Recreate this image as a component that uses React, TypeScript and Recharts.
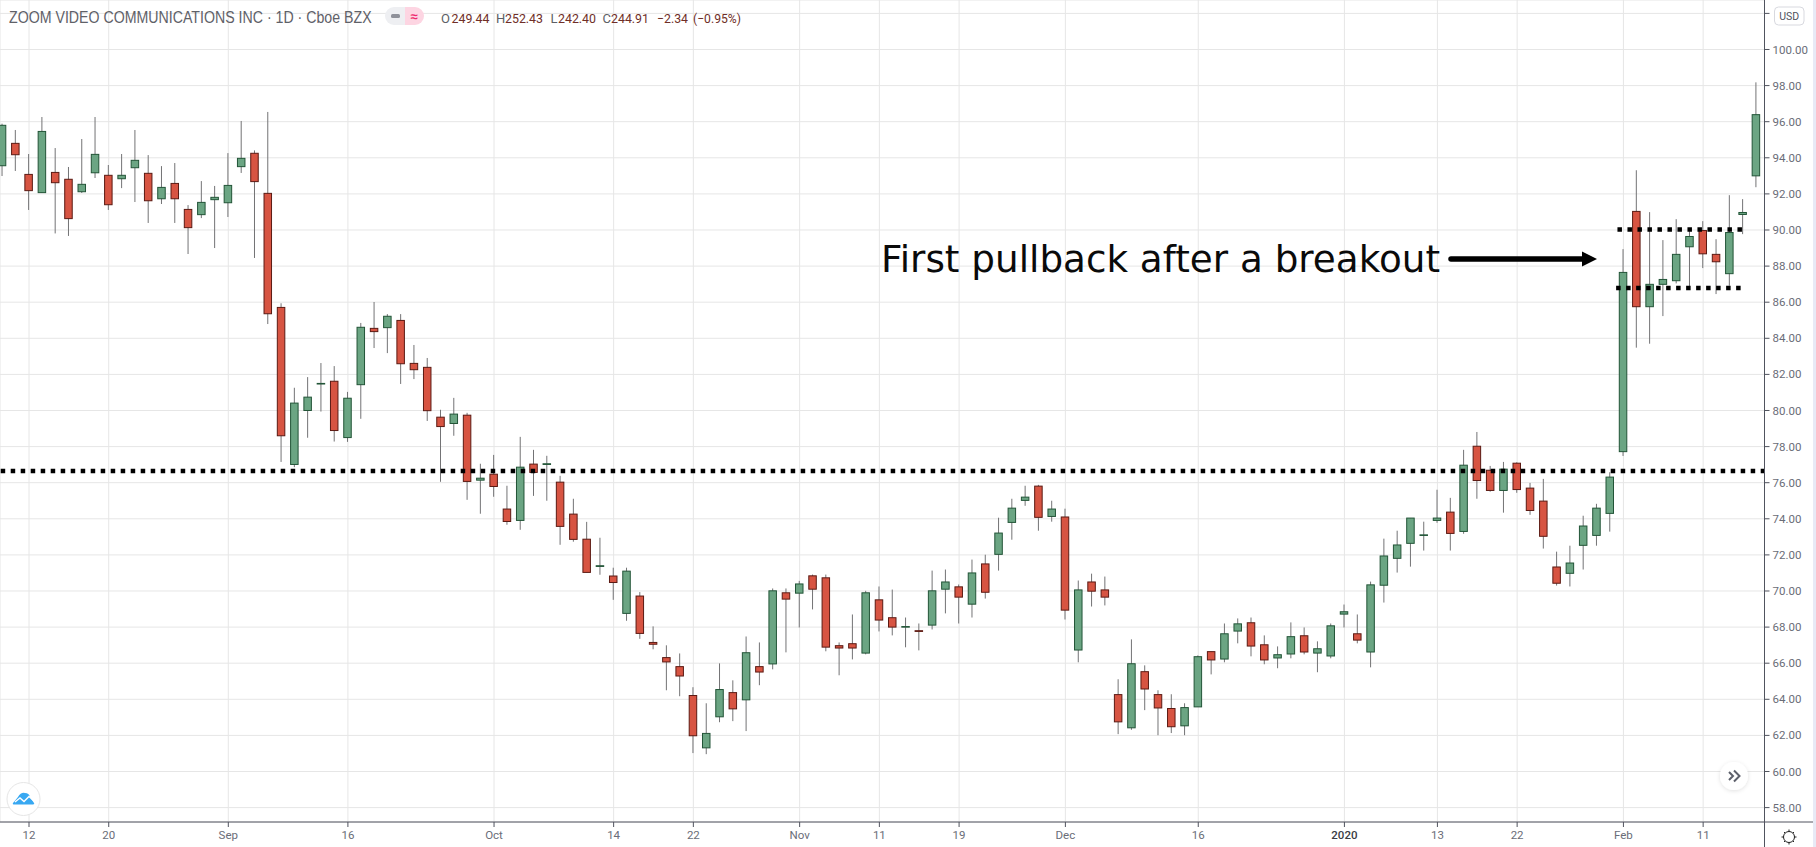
import React from "react";
import { ComposedChart, Bar, XAxis, YAxis, CartesianGrid, ReferenceLine } from "recharts";

const opens = [93.56,94.80,93.08,92.07,93.19,92.81,92.12,93.17,93.03,92.84,93.45,93.14,91.73,92.58,91.14,90.85,91.68,91.51,93.51,94.25,92.03,85.71,77.01,80.00,81.47,81.62,78.50,81.43,84.55,84.59,84.99,82.61,82.39,79.63,79.28,79.74,76.14,76.47,74.54,73.91,77.03,77.01,76.03,74.26,72.87,71.36,70.83,68.76,69.72,67.15,66.31,65.81,64.21,61.31,63.03,64.37,63.97,65.81,65.96,69.90,69.88,70.84,70.73,66.97,67.08,66.56,69.51,68.52,68.00,67.80,68.11,70.10,70.23,69.27,71.50,72.03,73.80,75.02,75.81,74.13,74.10,66.73,70.50,70.06,64.26,62.42,65.53,64.26,63.49,62.53,63.58,66.64,66.23,67.78,68.24,67.02,66.29,66.51,67.52,66.56,66.40,68.72,67.63,66.62,70.32,71.81,72.64,73.08,73.91,74.37,73.30,78.02,76.69,75.57,77.08,75.70,74.98,71.33,70.98,72.53,73.08,74.30,77.72,91.03,85.75,86.99,87.19,89.07,89.97,88.65,87.58,90.86,93.00];
const highs = [95.89,95.54,94.21,96.26,94.54,93.49,95.04,96.26,93.60,94.21,95.54,94.15,93.54,93.71,91.38,92.71,92.44,94.26,96.04,94.41,96.54,85.94,81.26,81.85,82.63,82.46,81.03,84.85,86.01,85.34,85.34,83.63,82.91,80.04,80.70,79.87,77.05,77.54,75.83,78.54,77.82,77.49,76.38,75.11,73.83,72.95,71.29,71.29,69.94,68.04,66.99,66.54,64.67,63.78,65.99,65.05,67.48,67.15,70.14,70.14,70.56,70.91,70.91,67.15,68.70,70.01,70.25,70.08,68.53,68.20,71.13,71.19,70.36,71.74,72.01,74.06,75.11,75.83,75.88,75.00,74.56,70.58,70.96,70.80,65.11,67.32,65.88,64.50,64.28,63.78,66.43,66.64,68.20,68.48,68.53,67.54,66.93,68.26,67.98,67.21,68.20,69.25,68.70,70.52,72.90,73.34,74.04,73.84,75.61,75.16,77.82,78.81,76.93,77.15,77.13,75.99,76.21,72.18,72.51,74.17,74.83,76.58,88.94,93.31,90.99,89.44,90.60,89.99,90.49,89.49,91.93,91.71,98.18];
const lows = [92.99,93.27,91.11,92.07,89.81,89.67,92.05,92.88,91.11,92.32,91.55,90.39,91.44,90.39,88.67,90.66,89.00,90.72,93.16,88.45,84.79,77.15,76.86,78.49,79.94,78.28,78.26,79.54,83.46,83.18,81.47,81.74,79.42,76.05,78.60,75.05,74.28,75.22,73.67,73.39,75.27,75.00,72.56,72.73,71.03,70.90,69.51,68.35,67.35,66.77,64.50,64.17,61.02,60.96,62.73,62.79,62.24,64.78,65.66,66.60,67.98,68.98,66.66,65.33,66.21,66.49,67.76,67.54,66.88,66.71,67.87,68.76,68.20,68.53,69.58,71.13,72.84,74.72,73.34,73.84,68.42,66.05,69.14,69.20,62.07,62.31,63.40,62.01,62.13,62.01,63.58,65.38,66.05,67.10,66.38,65.94,65.72,66.27,66.49,65.50,66.27,67.98,67.10,65.77,69.36,71.02,71.35,72.24,73.78,72.24,73.17,75.11,75.50,74.34,75.44,74.22,72.35,70.30,70.25,71.19,72.51,73.29,77.48,83.48,83.70,85.23,87.04,86.86,87.89,86.45,86.91,89.77,92.37];
const closes = [95.80,94.17,92.18,95.46,92.62,90.63,92.53,94.19,91.40,93.03,93.86,91.62,92.36,91.73,90.13,91.53,91.81,92.47,93.97,92.68,85.36,78.60,80.41,80.74,81.50,78.89,80.68,84.61,84.37,85.22,82.59,82.26,79.99,79.11,79.80,76.07,76.25,75.79,73.85,76.86,76.57,77.05,73.58,72.86,71.03,71.40,70.47,71.10,67.65,67.05,66.07,65.29,61.98,62.11,64.54,63.47,66.58,65.51,70.01,69.55,70.39,70.10,66.89,66.84,66.84,69.90,68.39,68.00,68.03,67.76,70.01,70.50,69.66,71.00,69.93,73.21,74.59,75.20,74.08,74.54,68.94,70.06,69.99,69.66,62.75,65.97,64.57,63.52,62.48,63.54,66.36,66.18,67.63,68.18,66.95,66.18,66.47,67.47,66.62,66.80,68.07,68.85,67.28,70.34,71.94,72.55,74.04,73.11,74.04,73.19,76.97,76.12,75.57,76.75,75.62,74.46,73.03,70.43,71.55,73.60,74.59,76.31,87.65,85.75,86.99,87.26,88.65,89.64,88.68,88.24,89.86,90.97,96.39];

const dateTickIndex = [2,8,17,26,37,46,52,60,66,72,80,90,101,108,114,122,128];
const dateTickLabel = ["12","20","Sep","16","Oct","14","22","Nov","11","19","Dec","16","2020","13","22","Feb","11"];
const priceTicks = [58,60,62,64,66,68,70,72,74,76,78,80,82,84,86,88,90,92,94,96,98,100,102];

const breakoutLevel = 76.65;
const rangeTop = 90.03;
const rangeBottom = 86.79;

const rows = opens.map((o, i) => ({
  i,
  o,
  h: highs[i],
  l: lows[i],
  c: closes[i],
  range: [lows[i], highs[i]],
}));

const UI_FONT = "Roboto, 'Liberation Sans', sans-serif";
const AXIS_COLOR = "#50535e";

function Candle(props: any) {
  const { x, y, width, height, payload } = props;
  const { o, h, l, c } = payload;
  const k = height / (h - l);
  const cx = x + width / 2;
  const up = c >= o;
  const yTop = y + (h - Math.max(o, c)) * k;
  const yBot = y + (h - Math.min(o, c)) * k;
  return (
    <g>
      <line x1={cx} x2={cx} y1={y} y2={y + height} stroke="#737375" strokeWidth={1} />
      <rect
        x={x + 0.5}
        y={yTop}
        width={width - 1}
        height={Math.max(yBot - yTop, 0.6)}
        fill={up ? "#6ba583" : "#d75442"}
        stroke={up ? "#225437" : "#5b1a13"}
        strokeWidth={1}
      />
    </g>
  );
}

function DateTick(props: any) {
  const { x, y, payload } = props;
  const label = dateTickLabel[dateTickIndex.indexOf(payload.value)];
  return (
    <text
      x={x}
      y={y + 10}
      textAnchor="middle"
      fontFamily={UI_FONT}
      fontSize={11.5}
      fontWeight={label === "2020" ? 500 : 400}
      fill={label === "2020" ? "#3a3c44" : "#6a6d78"}
    >
      {label}
    </text>
  );
}

function Overlay() {
  return (
    <svg width={1816} height={847} style={{ position: "absolute", left: 0, top: 0, pointerEvents: "none" }}>
      <defs>
        <filter id="soft" x="-50%" y="-50%" width="200%" height="200%">
          <feDropShadow dx="0" dy="1" stdDeviation="2" floodColor="#000" floodOpacity="0.12" />
        </filter>
      </defs>
      <line x1={1764.5} x2={1764.5} y1={822} y2={847} stroke={AXIS_COLOR} />
      <line x1={1764} x2={1813} y1={822} y2={822} stroke={AXIS_COLOR} />
      <rect x={1813} y={0} width={3} height={847} fill="#e8eaf6" />

      <text transform="translate(9,23) scale(0.834,1)" fontFamily="'Liberation Sans', sans-serif" fontSize={17} fill="#5f6168">
        ZOOM VIDEO COMMUNICATIONS INC · 1D · Cboe BZX
      </text>

      <path d="M405 7 H394 A9 9 0 0 0 394 25 H405 Z" fill="#eeeff2" />
      <path d="M405 7 H415 A9 9 0 0 1 415 25 H405 Z" fill="#fdd5e2" />
      <rect x={391} y={14} width={9} height={4} rx={1.5} fill="#8f919a" />
      <text x={414} y={21} textAnchor="middle" fontFamily="'Liberation Sans', sans-serif" fontSize={13} fontWeight={700} fill="#ee2a6f">≈</text>

      <g fontFamily={UI_FONT} fontSize={13}>
        <text x={441} y={23} fill="#5d5f66">O</text>
        <text x={451.5} y={23} fill="#6f2e27" textLength={38} lengthAdjust="spacingAndGlyphs">249.44</text>
        <text x={496} y={23} fill="#5d5f66">H</text>
        <text x={505} y={23} fill="#6f2e27" textLength={38} lengthAdjust="spacingAndGlyphs">252.43</text>
        <text x={550.5} y={23} fill="#5d5f66">L</text>
        <text x={558} y={23} fill="#6f2e27" textLength={38} lengthAdjust="spacingAndGlyphs">242.40</text>
        <text x={602.5} y={23} fill="#5d5f66">C</text>
        <text x={611} y={23} fill="#6f2e27" textLength={38} lengthAdjust="spacingAndGlyphs">244.91</text>
        <text x={657} y={23} fill="#6f2e27" textLength={31} lengthAdjust="spacingAndGlyphs">−2.34</text>
        <text x={693} y={23} fill="#6f2e27" textLength={48} lengthAdjust="spacingAndGlyphs">(−0.95%)</text>
      </g>

      <rect x={1774.5} y={7} width={29.5} height={18} rx={4} fill="#fff" stroke="#d8d9df" />
      <text x={1789.2} y={19.5} textAnchor="middle" fontFamily={UI_FONT} fontSize={10.5} fill="#50535e">USD</text>

      <circle cx={23.5} cy={799} r={16.5} fill="#fff" stroke="#e6e6e6" />
      <path d="M13 803 L18 797 Q21 792 25 793 Q29 793 30 797 L34 803 Q35 804 33 804.5 L15 804.5 Q12 804.5 13 803 Z" fill="#38a8f2" />
      <path d="M15 802 L20 798 L24 801.5 L29 796.5 L34 801" fill="none" stroke="#fff" strokeWidth={1.4} />

      <circle cx={1734} cy={776} r={14} fill="#fff" filter="url(#soft)" />
      <path d="M1729 772 L1733 776 L1729 780 M1734 770.5 L1739.5 776 L1734 781.5" fill="none" stroke="#5d606b" strokeWidth={2} />

      <g stroke="#222" fill="none">
        <circle cx={1789} cy={837} r={5.5} />
        <path d="M1789 829.5 V832 M1789 842 V844.5 M1781.5 837 H1784 M1794 837 H1796.5 M1784 832 L1785 833 M1794 832 L1793 833 M1784 842 L1785 841 M1794 842 L1793 841" />
      </g>

      <text x={881} y={272} fontFamily="'DejaVu Sans', sans-serif" fontSize={37.3} fill="#0a0a0a">First pullback after a breakout</text>
      <line x1={1451} x2={1584} y1={259} y2={259} stroke="#000" strokeWidth={5.5} strokeLinecap="round" />
      <polygon points="1582,251.5 1597,259 1582,266.5" fill="#000" />
    </svg>
  );
}

export default function App() {
  return (
    <div style={{ position: "absolute", left: 0, top: 0, width: 1816, height: 847, background: "#fff", overflow: "hidden" }}>
      <ComposedChart width={1816} height={847} data={rows} margin={{ top: 0, right: 0, bottom: 0, left: 0 }}>
        <CartesianGrid stroke="#e6e6e6" strokeWidth={1} />
        <XAxis
          dataKey="i"
          type="number"
          domain={[-0.183, 132.617]}
          ticks={dateTickIndex}
          interval={0}
          height={25}
          tickSize={5}
          tick={<DateTick />}
          axisLine={{ stroke: AXIS_COLOR }}
          tickLine={{ stroke: AXIS_COLOR }}
        />
        <YAxis
          orientation="right"
          type="number"
          width={51.5}
          domain={[57.202, 102.742]}
          ticks={priceTicks}
          interval={0}
          tickSize={5}
          tickMargin={3}
          tickFormatter={(v: number) => (v >= 102 ? "" : v.toFixed(2))}
          tick={{ fontFamily: UI_FONT, fontSize: 11.5, fill: "#6a6d78" }}
          axisLine={{ stroke: AXIS_COLOR }}
          tickLine={{ stroke: AXIS_COLOR }}
        />
        <Bar dataKey="range" barSize={8.5} shape={<Candle />} isAnimationActive={false} />
        <ReferenceLine
          segment={[{ x: -0.13, y: breakoutLevel }, { x: 132.617, y: breakoutLevel }]}
          stroke="#000"
          strokeWidth={4.5}
          strokeDasharray="4.5 5.5"
        />
        <ReferenceLine
          segment={[{ x: 121.55, y: rangeTop }, { x: 131.05, y: rangeTop }]}
          stroke="#000"
          strokeWidth={4.5}
          strokeDasharray="4.5 5.5"
        />
        <ReferenceLine
          segment={[{ x: 121.45, y: rangeBottom }, { x: 130.95, y: rangeBottom }]}
          stroke="#000"
          strokeWidth={4.5}
          strokeDasharray="4.5 5.5"
        />
      </ComposedChart>
      <Overlay />
    </div>
  );
}
